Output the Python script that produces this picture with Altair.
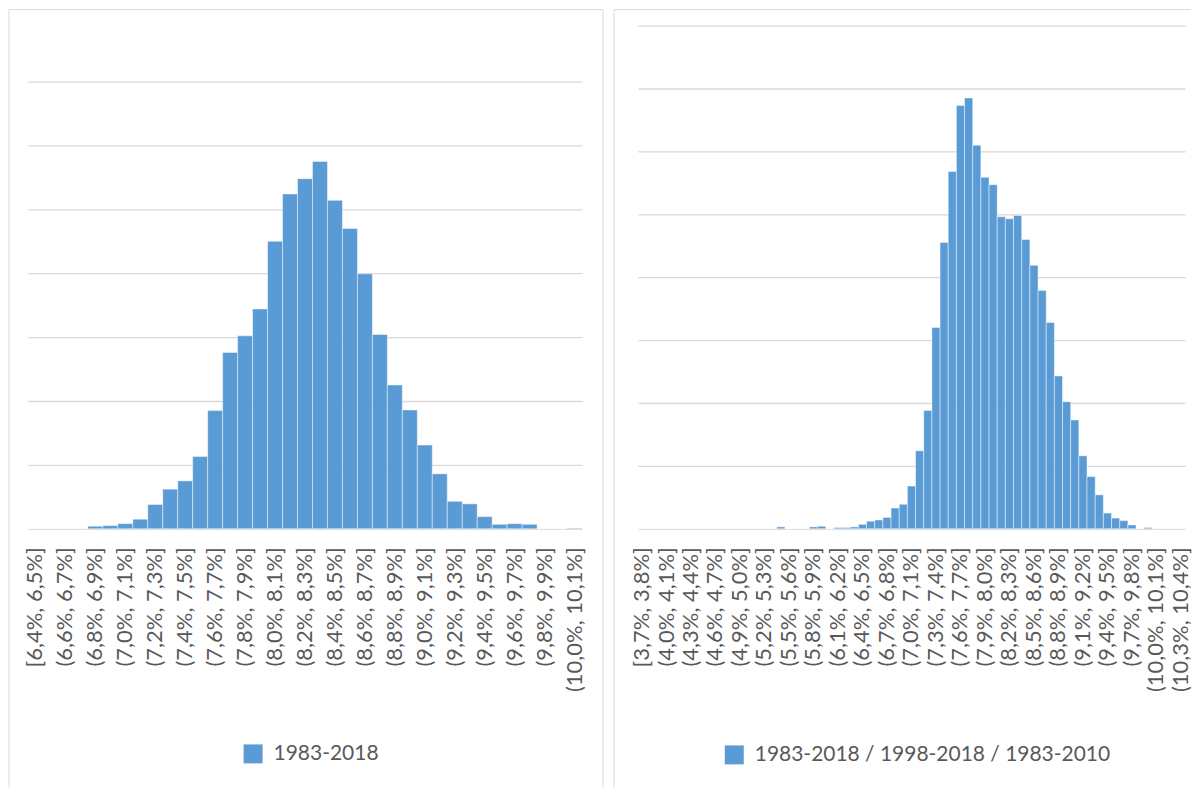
import altair as alt
import pandas as pd

# ---------------- data ----------------
def interval_labels(start_tenths, end_tenths):
    out = []
    for i, a in enumerate(range(start_tenths, end_tenths)):
        b = a + 1
        lo = f"{a // 10},{a % 10}%"
        hi = f"{b // 10},{b % 10}%"
        out.append(("[" if i == 0 else "(") + f"{lo}, {hi}]")
    return out

left_labels = interval_labels(64, 101)     # [6,4%, 6,5%] ... (10,0%, 10,1%]
right_labels = interval_labels(37, 104)    # [3,7%, 3,8%] ... (10,3%, 10,4%]

left_counts = [0, 0, 0, 0, 4, 5, 8, 15, 38, 62, 75, 113, 185, 276, 302, 344, 450, 524,
               548, 575, 514, 470, 399, 304, 225, 186, 131, 86, 43, 39, 19, 7, 8, 7, 0, 0, 1]

right_counts = [0, 0, 0, 0, 0, 0, 0, 0, 0, 0, 0, 0, 0, 0, 0, 0, 0, 3, 0, 0, 0, 3, 4, 0,
                2, 2, 3, 7, 12, 14, 18, 33, 39, 68, 124, 188, 320, 455, 568, 673, 685, 610,
                559, 547, 496, 493, 498, 460, 419, 379, 328, 243, 202, 173, 116, 83, 54, 25,
                17, 13, 6, 0, 2, 0, 0, 0, 0]

left_series = "1983-2018"
right_series = "1983-2018 / 1998-2018 / 1983-2010"

left_shown = left_labels[::2]
right_shown = right_labels[::3]

left_grid = [0, 100, 200, 300, 400, 500, 600, 700]
right_grid = [0, 100, 200, 300, 400, 500, 600, 700, 800]

# ---------------- style ----------------
BAR = "#5b9bd5"
GRID = "#d9d9d9"
TXT = "#595959"
FONT = "Lato"
PLOT_H = 504


def panel(labels, counts, series, shown, grid, ymax, width, leg_x, leg_y, border):
    df = pd.DataFrame({"bin": labels, "count": counts, "series": series})
    bars = alt.Chart(df).mark_bar(
        stroke="white", strokeOpacity=0.45, strokeWidth=1
    ).encode(
        x=alt.X(
            "bin:N", sort=labels,
            scale=alt.Scale(paddingInner=0, paddingOuter=0),
            axis=alt.Axis(values=shown, labelAngle=-90, labelFontSize=22, labelFont=FONT,
                          labelColor=TXT, ticks=False, tickSize=0, domain=False, grid=False,
                          labelPadding=18, title=None, labelOverlap=False, labelLimit=400),
        ),
        y=alt.Y(
            "count:Q",
            scale=alt.Scale(domain=[0, ymax], nice=False, zero=True),
            axis=alt.Axis(values=grid, labels=False, ticks=False, domain=False, title=None,
                          grid=True, gridColor=GRID, gridWidth=1.3),
        ),
        color=alt.Color(
            "series:N",
            scale=alt.Scale(domain=[series], range=[BAR]),
            legend=alt.Legend(orient="none", legendX=leg_x, legendY=leg_y, title=None,
                              symbolType="square", symbolSize=361, symbolStrokeWidth=0,
                              labelFontSize=21, labelFont=FONT, labelColor=TXT,
                              labelOffset=10, padding=0, labelLimit=600),
        ),
    )
    one = pd.DataFrame({"k": [0]})
    layers = [bars]
    for (x1, x2, y1, y2) in border:
        enc = {"x": alt.value(x1), "y": alt.value(y1)}
        if x2 is not None:
            enc["x2"] = alt.value(x2)
        if y2 is not None:
            enc["y2"] = alt.value(y2)
        layers.append(alt.Chart(one).mark_rule(color=GRID, strokeWidth=1).encode(**enc))
    return alt.layer(*layers).properties(width=width, height=PLOT_H)


left = panel(left_labels, left_counts, left_series, left_shown, left_grid,
             700 * PLOT_H / 448, 555, 215, 719,
             [(-19, None, -16, 763), (-19, 576, -16, None), (576, None, -16, 763)])

right = panel(right_labels, right_counts, right_series, right_shown, right_grid,
              800, 548, 86, 720,
              [(-24, None, -16, 763), (-24, 554, -16, None)])

chart = alt.hconcat(left, right, spacing=9).resolve_scale(
    color="independent"
).resolve_legend(color="independent").properties(padding=0).configure_view(strokeWidth=0)

chart.save("out.html", embed_options={"renderer": "svg", "actions": False})
